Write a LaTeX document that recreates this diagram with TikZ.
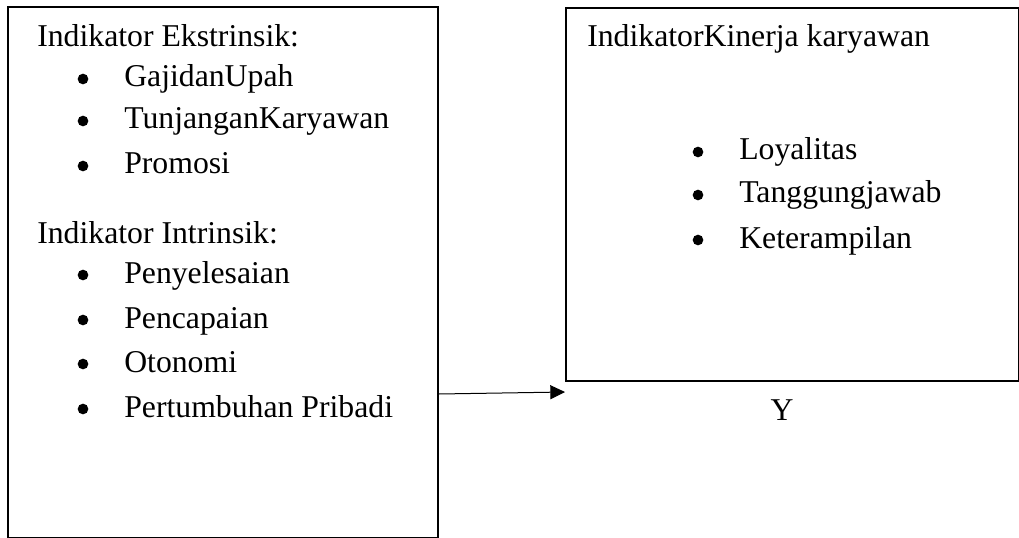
\documentclass[tikz,border=0pt]{standalone}
\usepackage{fontspec}
\setmainfont{Liberation Serif}
\usetikzlibrary{arrows.meta,positioning}
\tikzstyle{indbox}=[draw, line width=1.5pt, inner sep=0pt, anchor=north west]
\tikzstyle{txt}=[anchor=base west, inner sep=0pt, font=\fontsize{23.8}{28}\selectfont]
\newcommand{\bulletItem}[5]{
	\fill (#2,#4-8) circle (4pt);
	\node[txt] (#1) at (#3,#4) {#5};
}

\begin{document}
\begin{tikzpicture}[x=0.75pt, y=-0.75pt]
	\useasboundingbox (0,0) rectangle (1019,538);
	% boxes
	\node[indbox, minimum width=322.5pt, minimum height=398.25pt] (lbox) at (7,6) {};
	\node[indbox, minimum width=339.75pt, minimum height=279.75pt] (rbox) at (565,7) {};
	% left box
	\node[txt] (ekst) at (37,47) {Indikator Ekstrinsik:};
	\bulletItem{gaji}{83}{124}{87}{GajidanUpah}
	\bulletItem{tunj}{83}{124}{129}{TunjanganKaryawan}
	\bulletItem{prom}{83}{124}{174}{Promosi}
	\node[txt] (intr) at (37,243) {Indikator Intrinsik:};
	\bulletItem{peny}{83}{124}{283}{Penyelesaian}
	\bulletItem{penc}{83}{124}{328}{Pencapaian}
	\bulletItem{oton}{83}{124}{372}{Otonomi}
	\bulletItem{pert}{83}{124}{417}{Pertumbuhan Pribadi}
	% right box
	\node[txt] (kin) at (587,47) {IndikatorKinerja karyawan};
	\bulletItem{loya}{698}{739}{160}{Loyalitas}
	\bulletItem{tang}{698}{739}{203}{Tanggungjawab}
	\bulletItem{kete}{698}{739}{248}{Keterampilan}
	\node[txt, anchor=base] (yy) at (782,420) {Y};
	% arrow
	\draw[-{Triangle[length=11pt,width=10.5pt]}, line width=0.75pt] (lbox.east |- 0,394) -- (rbox.west |- 0,392);
\end{tikzpicture}
\end{document}
